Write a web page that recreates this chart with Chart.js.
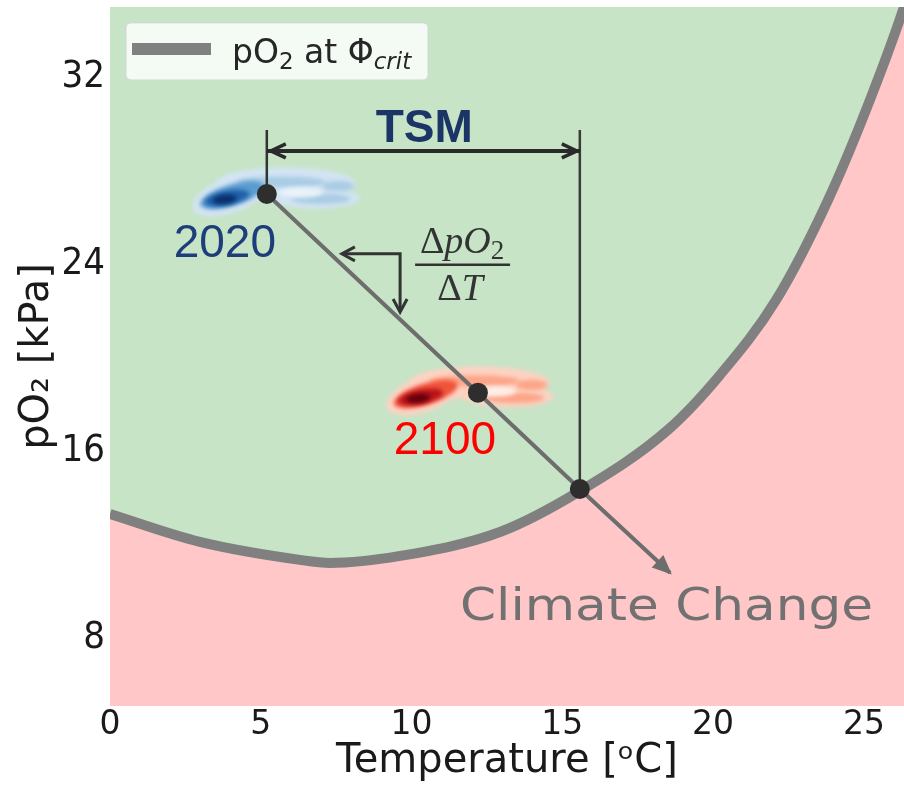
<!DOCTYPE html>
<html>
<head>
<meta charset="utf-8">
<script src="https://cdn.jsdelivr.net/npm/chart.js@4.4.1/dist/chart.umd.min.js"></script>
<style>
  html, body { margin: 0; padding: 0; background: #ffffff; }
  #wrap { width: 904px; height: 788px; }
</style>
</head>
<body>
<div id="wrap"><canvas id="c" width="904" height="788"></canvas></div>
<script>
// Axis ticks
const xTicks = [0, 5, 10, 15, 20, 25];
const yTicks = [8, 16, 24, 32];

// pO2 at the critical metabolic index, against temperature
const thresholdTemp = [0, 2.98, 6.3, 7.3, 9.62, 12.93, 15.59, 18.5, 20.23, 22.09, 23.81, 25.2, 26.33, 26.6];
const thresholdPO2  = [13.31, 12.12, 11.35, 11.22, 11.52, 12.54, 14.3, 16.91, 19.26, 22.47, 26.74, 31.02, 35.0, 36.15];

// Habitat state in two years (dot = centre of the density cloud)
const stateYears = ['2020', '2100'];
const stateTemp  = [5.2, 12.2];
const statePO2   = [27.0, 18.5];

// Where the warming path meets the threshold, and where its arrow ends
const crossTemp = 15.58, crossPO2 = 14.38;
const pathEndTemp = 18.57, pathEndPO2 = 10.8;

// Thermal safety margin bracket
const tsmLevel = 28.84;
const tsmTop = 29.74;

// Slope marker (dpO2 / dT)
const slopeTemp = [7.69, 9.62, 9.62];
const slopePO2  = [24.44, 24.44, 21.95];

// Density clouds around each state: centre (T, pO2)
const cloudTemp = [5.50, 11.92];
const cloudPO2  = [27.17, 18.66];
// Kernel pieces relative to the cloud centre: dT, dpO2, rT, rpO2, tilt, shade level (-1 = pale hollow)
const cloudKernel = [
  [-1.49, -0.21, 1.33, 0.75, -0.35, 0],
  [ 0.33,  0.26, 2.32, 0.70,  0.00, 0],
  [ 1.33, -0.34, 1.46, 0.45,  0.00, 0],
  [-1.45, -0.22, 1.10, 0.45, -0.30, 2],
  [ 0.17,  0.34, 1.49, 0.24,  0.00, 1],
  [ 1.49, -0.38, 0.99, 0.22,  0.00, 1],
  [ 2.06,  0.17, 0.53, 0.22,  0.00, 1],
  [ 0.83, -0.10, 0.73, 0.22,  0.00, -1],
  [-1.62, -0.34, 0.75, 0.30, -0.20, 3],
  [-1.70, -0.40, 0.40, 0.20, -0.10, 4]
];

const cloudShades = [
  { hollow: '#eaf2fa', levels: ['#d3e4f3', '#a9cce4', '#5a9bd0', '#1f5fa8', '#08306b'] },
  { hollow: '#ffeee8', levels: ['#fdd2c2', '#fca487', '#f0533b', '#b8141b', '#67000d'] }
];
const yearColors = ['#1d3e78', '#ff0000'];

const GREEN = '#c7e4c7';
const PINK = '#ffc7c7';
const CURVE_GRAY = '#808080';
const INK = '#1a1a1a';

const curveData = thresholdTemp.map((t, i) => ({ x: t, y: thresholdPO2[i] }));
const pathData = [
  { x: stateTemp[0], y: statePO2[0] },
  { x: stateTemp[1], y: statePO2[1] },
  { x: crossTemp, y: crossPO2 },
  { x: pathEndTemp, y: pathEndPO2 }
];

function arrowHead(ctx, fromX, fromY, tipX, tipY, len, half, color, filled, lw) {
  const dx = tipX - fromX, dy = tipY - fromY;
  const d = Math.hypot(dx, dy) || 1;
  const ux = dx / d, uy = dy / d;
  const bx = tipX - ux * len, by = tipY - uy * len;
  const px = -uy * half, py = ux * half;
  ctx.save();
  ctx.strokeStyle = color;
  ctx.fillStyle = color;
  ctx.lineWidth = lw;
  ctx.lineJoin = 'miter';
  ctx.beginPath();
  ctx.moveTo(bx + px, by + py);
  ctx.lineTo(tipX, tipY);
  ctx.lineTo(bx - px, by - py);
  if (filled) { ctx.closePath(); ctx.fill(); }
  ctx.stroke();
  ctx.restore();
}

function drawRuns(ctx, runs, cx, baseline, color) {
  let total = 0;
  runs.forEach(r => { ctx.font = r.font; r.w = ctx.measureText(r.t).width; total += r.w; });
  let x = cx - total / 2;
  ctx.fillStyle = color;
  ctx.textAlign = 'left';
  ctx.textBaseline = 'alphabetic';
  runs.forEach(r => { ctx.font = r.font; ctx.fillText(r.t, x, baseline + (r.dy || 0)); x += r.w; });
  return total;
}

const cloudPlugin = {
  id: 'densityClouds',
  afterDatasetDraw(chart, args) {
    if (args.index !== 1) return;
    const { ctx, scales: { x, y }, chartArea } = chart;
    ctx.save();
    ctx.beginPath();
    ctx.rect(chartArea.left, chartArea.top, chartArea.width, chartArea.height);
    ctx.clip();
    ctx.filter = 'blur(2px)';
    cloudTemp.forEach((ct, k) => {
      const shades = cloudShades[k];
      // pale hollow after the mid tones, darkest core last
      const pieces = cloudKernel.slice().sort((a, b) => {
        const la = a[5] === -1 ? 2.5 : a[5];
        const lb = b[5] === -1 ? 2.5 : b[5];
        return la - lb;
      });
      pieces.forEach(p => {
        const cx = x.getPixelForValue(ct + p[0]);
        const cy = y.getPixelForValue(cloudPO2[k] + p[1]);
        const rx = x.getPixelForValue(ct + p[2]) - x.getPixelForValue(ct);
        const ry = y.getPixelForValue(cloudPO2[k]) - y.getPixelForValue(cloudPO2[k] + p[3]);
        ctx.fillStyle = p[5] === -1 ? shades.hollow : shades.levels[p[5]];
        ctx.beginPath();
        ctx.ellipse(cx, cy, rx, ry, p[4], 0, Math.PI * 2);
        ctx.fill();
      });
    });
    ctx.restore();
  }
};

const notesPlugin = {
  id: 'notes',
  afterDatasetsDraw(chart) {
    const { ctx, scales: { x, y }, chartArea } = chart;
    const X = v => x.getPixelForValue(v);
    const Y = v => y.getPixelForValue(v);

    // TSM double arrow heads
    const tl = X(stateTemp[0]) + 4, tr = X(crossTemp) - 3, ty = Y(tsmLevel);
    arrowHead(ctx, tr, ty, tl, ty, 15, 7, '#2a2a2a', false, 3.5);
    arrowHead(ctx, tl, ty, tr, ty, 15, 7, '#2a2a2a', false, 3.5);

    // slope marker heads
    arrowHead(ctx, X(slopeTemp[1]), Y(slopePO2[1]), X(slopeTemp[0]), Y(slopePO2[0]), 13, 7, '#333333', false, 3);
    arrowHead(ctx, X(slopeTemp[1]), Y(slopePO2[1]), X(slopeTemp[2]), Y(slopePO2[2]), 13, 7, '#333333', false, 3);

    // warming path head
    arrowHead(ctx, X(crossTemp), Y(crossPO2), X(pathEndTemp), Y(pathEndPO2), 16, 7, '#6d6d6d', true, 2);

    // TSM label
    ctx.save();
    ctx.font = 'bold 46px "Liberation Sans", Arial, sans-serif';
    ctx.fillStyle = '#1b3566';
    ctx.textAlign = 'center';
    ctx.textBaseline = 'alphabetic';
    ctx.fillText('TSM', (X(stateTemp[0]) + X(crossTemp)) / 2 + 1, Y(tsmLevel) - 9);

    // year labels below-left of each dot
    const labelDx = [-42, -33], labelDy = [63, 61];
    ctx.font = '46px "Liberation Sans", Arial, sans-serif';
    stateYears.forEach((yr, k) => {
      ctx.fillStyle = yearColors[k];
      ctx.fillText(yr, X(stateTemp[k]) + labelDx[k], Y(statePO2[k]) + labelDy[k]);
    });

    // dpO2 / dT fraction
    const fx = X(slopeTemp[1]) + 62, fy = Y(slopePO2[1]) + 11;
    const serif = '"Liberation Serif", "DejaVu Serif", serif';
    drawRuns(ctx, [
      { t: '\u0394', font: `38px ${serif}` },
      { t: 'pO', font: `italic 38px ${serif}` },
      { t: '2', font: `27px ${serif}`, dy: 6 }
    ], fx, fy - 12, '#333333');
    drawRuns(ctx, [
      { t: '\u0394', font: `38px ${serif}` },
      { t: 'T', font: `italic 38px ${serif}` }
    ], fx - 2, fy + 35, '#333333');
    ctx.strokeStyle = '#333333';
    ctx.lineWidth = 2.5;
    ctx.beginPath();
    ctx.moveTo(fx - 47, fy);
    ctx.lineTo(fx + 48, fy);
    ctx.stroke();

    // Climate Change caption
    ctx.font = '44px "Comic Sans MS", "DejaVu Sans", sans-serif';
    const cap = 'Climate Change';
    const w = ctx.measureText(cap).width;
    const cx0 = X(pathEndTemp) - 210, cy0 = Y(pathEndPO2) + 47;
    ctx.translate(cx0, cy0);
    ctx.scale(413 / w, 1);
    ctx.fillStyle = '#717171';
    ctx.textAlign = 'left';
    ctx.fillText(cap, 0, 0);
    ctx.restore();

    // legend
    const lab = chart.data.datasets[1];
    const lx = chartArea.left + 16, ly = chartArea.top + 16;
    ctx.save();
    ctx.fillStyle = 'rgba(255,255,255,0.8)';
    ctx.strokeStyle = 'rgba(210,210,210,0.8)';
    ctx.lineWidth = 1;
    ctx.beginPath();
    ctx.roundRect(lx, ly, 302, 57, 5);
    ctx.fill();
    ctx.stroke();
    ctx.strokeStyle = lab.borderColor;
    ctx.lineWidth = 12;
    ctx.beginPath();
    ctx.moveTo(lx + 6, ly + 26);
    ctx.lineTo(lx + 85, ly + 26);
    ctx.stroke();
    const sans = '"DejaVu Sans", sans-serif';
    let tx = lx + 106;
    const base = ly + 40;
    ctx.fillStyle = '#262626';
    ctx.textAlign = 'left';
    ctx.textBaseline = 'alphabetic';
    [
      { t: 'pO', f: `33px ${sans}`, dy: 0 },
      { t: '2', f: `23px ${sans}`, dy: 6 },
      { t: ' at \u03A6', f: `33px ${sans}`, dy: 0 },
      { t: 'crit', f: `italic 23px ${sans}`, dy: 6 }
    ].forEach(r => { ctx.font = r.f; ctx.fillText(r.t, tx, base + r.dy); tx += ctx.measureText(r.t).width; });
    ctx.restore();
  }
};

new Chart(document.getElementById('c'), {
  type: 'line',
  data: {
    datasets: [
      { data: curveData, fill: 'start', backgroundColor: PINK, borderWidth: 0, pointRadius: 0,
        cubicInterpolationMode: 'monotone', order: 6, clip: 0 },
      { label: 'pO\u2082 at \u03A6crit', data: curveData, fill: 'end', backgroundColor: GREEN,
        borderColor: CURVE_GRAY, borderWidth: 10, pointRadius: 0, cubicInterpolationMode: 'monotone',
        order: 5, clip: 0 },
      { data: [{ x: stateTemp[0], y: tsmTop }, { x: stateTemp[0], y: statePO2[0] }],
        borderColor: '#333333', borderWidth: 2.5, pointRadius: 0, fill: false, order: 4 },
      { data: [{ x: crossTemp, y: tsmTop }, { x: crossTemp, y: crossPO2 }],
        borderColor: '#3a3a3a', borderWidth: 2.5, pointRadius: 0, fill: false, order: 4 },
      { data: [{ x: stateTemp[0], y: tsmLevel }, { x: crossTemp, y: tsmLevel }],
        borderColor: '#2a2a2a', borderWidth: 4, pointRadius: 0, fill: false, order: 3 },
      { data: slopeTemp.map((t, i) => ({ x: t, y: slopePO2[i] })),
        borderColor: '#333333', borderWidth: 3, pointRadius: 0, fill: false, order: 3, tension: 0 },
      { data: pathData, borderColor: '#6d6d6d', borderWidth: 4, fill: false, order: 1,
        pointRadius: [10, 10, 10, 0], pointBackgroundColor: '#2e2e2e', pointBorderWidth: 0,
        pointHoverRadius: 0 }
    ]
  },
  options: {
    responsive: false,
    animation: false,
    devicePixelRatio: 1,
    events: [],
    layout: { autoPadding: false, padding: { top: 5, right: 0, bottom: 0, left: 0 } },
    plugins: { legend: { display: false }, tooltip: { enabled: false } },
    scales: {
      x: {
        type: 'linear', min: 0, max: 26.33,
        grid: { display: false, drawTicks: false },
        border: { display: false },
        afterBuildTicks: s => { s.ticks = xTicks.map(v => ({ value: v })); },
        afterFit: s => { s.height = 82; },
        ticks: { font: { family: 'DejaVu Sans', size: 33 }, color: INK, padding: 0, maxRotation: 0, autoSkip: false },
        title: { display: true, text: 'Temperature [\u1D52C]', color: INK,
                 font: { family: 'DejaVu Sans', size: 40 }, padding: { top: 0, bottom: 2 } }
      },
      y: {
        type: 'linear', min: 5.1, max: 35,
        grid: { display: false, drawTicks: false },
        border: { display: false },
        afterBuildTicks: s => { s.ticks = yTicks.map(v => ({ value: v })); },
        afterFit: s => { s.width = 110; },
        ticks: { font: { family: 'DejaVu Sans Condensed', size: 38, lineHeight: 0.1 }, color: INK, padding: 5, autoSkip: false },
        title: { display: true, text: 'pO\u2082 [kPa]', color: INK,
                 font: { family: 'DejaVu Sans', size: 40 }, padding: { top: 14, bottom: 0 } }
      }
    }
  },
  plugins: [cloudPlugin, notesPlugin]
});
</script>
</body>
</html>
